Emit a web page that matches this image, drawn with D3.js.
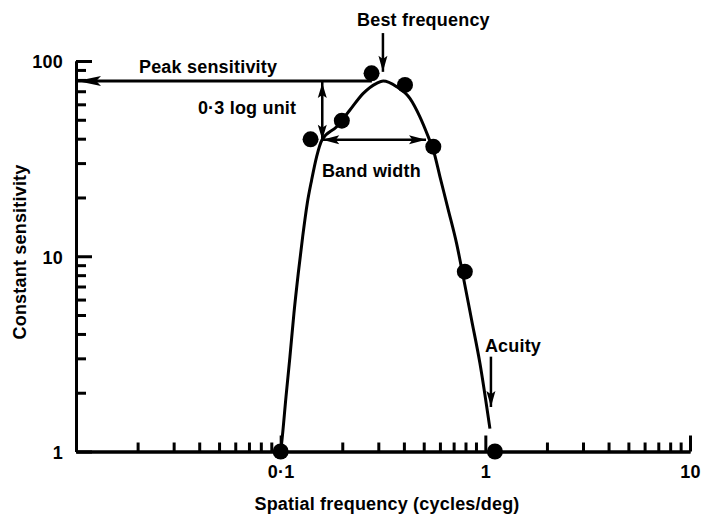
<!DOCTYPE html>
<html><head><meta charset="utf-8">
<script src="https://cdn.jsdelivr.net/npm/d3@7"></script>
<style>
body{margin:0;background:#fff}
svg text{font-family:"Liberation Sans",Arial,sans-serif;font-weight:bold;font-size:18px;letter-spacing:0.2px;fill:#000}
</style>
</head><body>
<svg id="chart" width="702" height="515"></svg>
<script>
// ---- data ----
const pointFreq = [0.1, 0.14, 0.199, 0.278, 0.405, 0.557, 0.794, 1.114];
const pointSens = [1, 39.7, 49.5, 86.5, 75.4, 36.4, 8.34, 1];

const curveFreq = [0.1, 0.1011, 0.1062, 0.111, 0.1161, 0.1219, 0.1281, 0.1349, 0.1417, 0.1499, 0.1591,
  0.1877, 0.218, 0.2532, 0.2944, 0.317, 0.3687, 0.428, 0.479, 0.526, 0.557, 0.600, 0.659, 0.724,
  0.780, 0.857, 0.941, 1.053];
const curveSens = [1, 1.10, 1.91, 3.06, 5.10, 8.18, 12.6, 18.7, 24.6, 32.4, 39.4,
  46.1, 56.1, 68.3, 76.9, 79.0, 73.9, 64.4, 51.8, 41.0, 35.0, 25.6, 17.3, 11.6,
  7.86, 4.72, 2.83, 1.31];

const xMajorTicks = [0.1, 1, 10];
const xTickLabels = ["0·1", "1", "10"];
const yMajorTicks = [1, 10, 100];
const yTickLabels = ["1", "10", "100"];

const xTitle = "Spatial frequency (cycles/deg)";
const yTitle = "Constant sensitivity";

// annotation values
const peakSens = 79, peakLineEnd = 0.279;
const halfSens = 39.5, bandLow = 0.1597, bandHigh = 0.513;
const bestFreq = 0.316, bestArrowFrom = 139, bestArrowTo = 88;
const acuityFreq = 1.065, acuityFrom = 3.06, acuityTo = 1.69;
const annotations = [
  {text: "Peak sensitivity", f: 0.0203, s: 86.8},
  {text: "0·3 log unit", f: 0.0394, s: 53.5},
  {text: "Band width", f: 0.159, s: 25.5},
  {text: "Best frequency", f: 0.236, s: 151},
  {text: "Acuity", f: 0.995, s: 3.23}
];

// ---- drawing ----
const svg = d3.select("#chart");
const x = d3.scaleLog().domain([0.01, 10]).range([76, 690]);
const y = d3.scaleLog().domain([1, 100]).range([451.5, 61]);

function minorTicks(lo, hi) {
  const out = [];
  for (let dec = lo; dec < hi; dec *= 10)
    for (let k = 2; k <= 9; k++) out.push(dec * k);
  return out;
}

// x axis
const gx = svg.append("g").attr("transform", `translate(0,${y(1)})`);
gx.append("g").call(d3.axisBottom(x).tickValues(minorTicks(0.01, 10)).tickSize(-9).tickSizeOuter(0).tickFormat(""));
gx.append("g").call(d3.axisBottom(x).tickValues(xMajorTicks).tickSize(-16).tickSizeOuter(0).tickPadding(14)
  .tickFormat((d, i) => xTickLabels[i]));
// y axis
const gy = svg.append("g").attr("transform", `translate(${x(0.01)},0)`);
gy.append("g").call(d3.axisLeft(y).tickValues(minorTicks(1, 100)).tickSize(-10).tickSizeOuter(0).tickFormat(""));
gy.append("g").call(d3.axisLeft(y).tickValues(yMajorTicks).tickSize(-16).tickSizeOuter(0).tickPadding(13)
  .tickFormat((d, i) => yTickLabels[i]));

svg.selectAll(".domain").attr("stroke", "#000").attr("stroke-width", 3);
svg.selectAll(".tick line").attr("stroke", "#000").attr("stroke-width", 3);
svg.selectAll(".tick text").attr("font-family", null).attr("font-size", null).style("fill", "#000");
gy.selectAll(".tick text").attr("dy", "0.38em");

// axis titles
svg.append("text").attr("x", 387).attr("y", 510).attr("text-anchor", "middle").text(xTitle);
svg.append("text").attr("transform", `translate(26,252) rotate(-90)`)
  .attr("text-anchor", "middle").text(yTitle);

// curve
const curveData = curveFreq.map((f, i) => [f, curveSens[i]]);
svg.append("path").datum(curveData)
  .attr("fill", "none").attr("stroke", "#000").attr("stroke-width", 3)
  .attr("d", d3.line().x(d => x(d[0])).y(d => y(d[1])).curve(d3.curveMonotoneX));

// arrows
function shaft(x1, y1, x2, y2, w) {
  svg.append("line").attr("x1", x1).attr("y1", y1).attr("x2", x2).attr("y2", y2)
    .attr("stroke", "#000").attr("stroke-width", w);
}
function head(tx, ty, ang, len, hw) {
  const c = Math.cos(ang), s = Math.sin(ang);
  const bx = tx - c * len, by = ty - s * len;
  const p = [[tx, ty], [bx - s * hw, by + c * hw], [tx - c * len * 0.8, ty - s * len * 0.8], [bx + s * hw, by - c * hw]];
  svg.append("path").attr("d", "M" + p.map(q => q.join(",")).join("L") + "Z").attr("fill", "#000");
}
// peak sensitivity line
shaft(x(0.01), y(peakSens), x(peakLineEnd), y(peakSens), 3);
head(x(0.01) + 1, y(peakSens), Math.PI, 24, 5);
// 0.3 log unit
shaft(x(bandLow), y(peakSens), x(bandLow), y(halfSens), 2.5);
head(x(bandLow), y(peakSens) + 2, -Math.PI / 2, 15, 4.5);
head(x(bandLow), y(halfSens), Math.PI / 2, 15, 4.5);
// band width
shaft(x(bandLow), y(halfSens), x(bandHigh), y(halfSens), 2.5);
head(x(bandLow), y(halfSens), Math.PI, 17, 4.5);
head(x(bandHigh), y(halfSens), 0, 17, 4.5);
// best frequency
shaft(x(bestFreq), y(bestArrowFrom), x(bestFreq), y(bestArrowTo), 2.5);
head(x(bestFreq), y(bestArrowTo), Math.PI / 2, 16, 4.5);
// acuity
shaft(x(acuityFreq), y(acuityFrom), x(acuityFreq), y(acuityTo), 2.5);
head(x(acuityFreq), y(acuityTo), Math.PI / 2, 16, 4.5);

// points
svg.selectAll("circle.pt").data(pointFreq).enter().append("circle").attr("class", "pt")
  .attr("cx", d => x(d)).attr("cy", (d, i) => y(pointSens[i])).attr("r", 8).attr("fill", "#000");

// annotation texts
svg.selectAll("text.ann").data(annotations).enter().append("text").attr("class", "ann")
  .attr("x", d => x(d.f)).attr("y", d => y(d.s)).text(d => d.text);
</script>
</body></html>
